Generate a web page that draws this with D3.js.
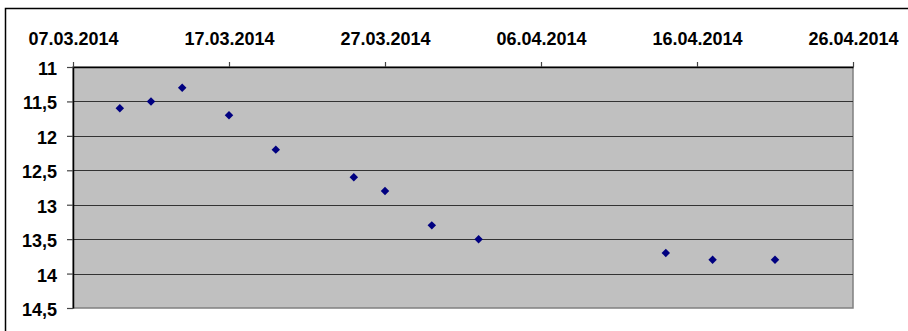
<!DOCTYPE html>
<html><head><meta charset="utf-8">
<script src="https://cdn.jsdelivr.net/npm/d3@7"></script>
<style>
html,body{margin:0;padding:0;background:#fff;}
svg{display:block;}
text{font-family:"Liberation Sans",Arial,sans-serif;font-weight:bold;font-size:18px;fill:#000;}
</style></head>
<body>
<script>
const dates = ["10.03.2014","12.03.2014","14.03.2014","17.03.2014","20.03.2014","25.03.2014","27.03.2014","30.03.2014","02.04.2014","14.04.2014","17.04.2014","21.04.2014"];
const values = [11.6,11.5,11.3,11.7,12.2,12.6,12.8,13.3,13.5,13.7,13.8,13.8];
const xTickLabels = ["07.03.2014","17.03.2014","27.03.2014","06.04.2014","16.04.2014","26.04.2014"];
const yTicks = [11,11.5,12,12.5,13,13.5,14,14.5];

const W = 908, H = 331;
const parse = d3.utcParse("%d.%m.%Y");
const fmt = d3.utcFormat("%d.%m.%Y");
const L = 73, R = 853, T = 67, B = 308;

const svg = d3.select("body").append("svg").attr("width", W).attr("height", H);

// outer frame
svg.append("path").attr("d", `M5.5,${H+2} V8.5 H${W+2}`).attr("fill","none").attr("stroke","#000").attr("stroke-width",1.5);

const x = d3.scaleUtc().domain([parse(xTickLabels[0]), parse(xTickLabels[xTickLabels.length-1])]).range([L, R]);
const y = d3.scaleLinear().domain([11, 14.5]).range([T, B]);

// plot area
svg.append("rect").attr("x", L).attr("y", T).attr("width", R-L).attr("height", B-T)
  .attr("fill", "#c0c0c0").attr("stroke", "#808080").attr("stroke-width", 1.5);

// gridlines
svg.append("g").selectAll("line").data(yTicks.slice(1,-1)).join("line")
  .attr("x1", L).attr("x2", R).attr("y1", d => Math.round(y(d))+0.5).attr("y2", d => Math.round(y(d))+0.5)
  .attr("stroke", "#333").attr("stroke-width", 1.2);

// top x axis
const xAxis = d3.axisTop(x).tickValues(xTickLabels.map(parse)).tickFormat(fmt).tickSize(5).tickSizeOuter(0).tickPadding(17);
const gx = svg.append("g").attr("transform", `translate(0,${T})`).call(xAxis);
gx.select(".domain").attr("stroke", "#000").attr("stroke-width", 1.5);
gx.selectAll(".tick line").attr("stroke", "#444").attr("stroke-width", 1.2);
gx.selectAll(".tick text").attr("font-size", 18).attr("font-family", "Liberation Sans, Arial, sans-serif").attr("font-weight","bold").attr("fill","#000");

// left y axis
const yAxis = d3.axisLeft(y).tickValues(yTicks).tickFormat(d => String(d).replace(".", ",")).tickSize(6).tickSizeOuter(0).tickPadding(10);
const gy = svg.append("g").attr("transform", `translate(${L},0)`).call(yAxis);
gy.select(".domain").attr("stroke", "#000").attr("stroke-width", 1.5);
gy.selectAll(".tick line").attr("stroke", "#444").attr("stroke-width", 1.2);
gy.selectAll(".tick text").attr("font-size", 18).attr("font-family", "Liberation Sans, Arial, sans-serif").attr("font-weight","bold").attr("fill","#000").attr("dy","0.42em");

// points (square rotated 45° = Excel diamond)
const sym = d3.symbol().type(d3.symbolSquare).size(36);
svg.append("g").selectAll("path").data(dates.map((d,i) => ({d: parse(d), v: values[i]}))).join("path")
  .attr("d", sym)
  .attr("transform", p => `translate(${x(p.d)},${y(p.v)}) rotate(45)`)
  .attr("fill", "#000080");
</script>
</body></html>
